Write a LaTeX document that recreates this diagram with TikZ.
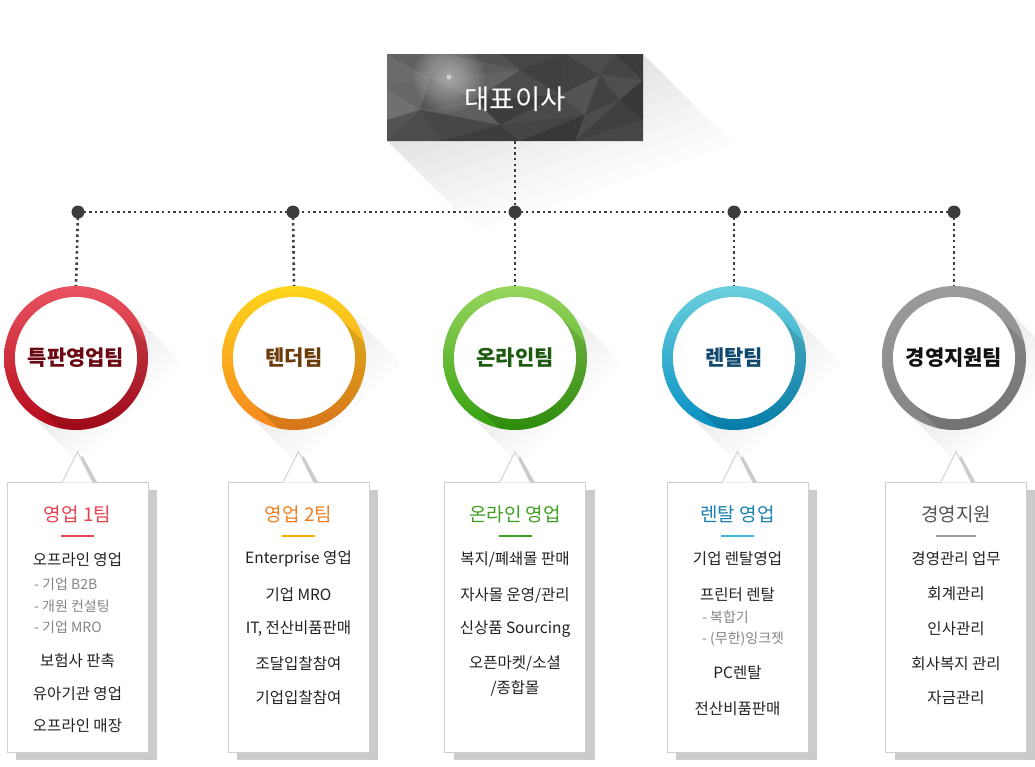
\documentclass[tikz,border=0pt]{standalone}
\usepackage{fontspec}
\setmainfont{Noto Sans CJK KR}
\usetikzlibrary{calc}
\definecolor{dotc}{HTML}{3C3C3C}
\definecolor{bossc}{HTML}{4A4A4A}
\definecolor{shadowc}{HTML}{CBCBCB}
\definecolor{panelline}{HTML}{CFCFCF}
\definecolor{itemc}{HTML}{222222}
\definecolor{subc}{HTML}{858585}
\definecolor{rA}{HTML}{E9535F}\definecolor{rB}{HTML}{B50A1B}
\definecolor{yA}{HTML}{FDD51C}\definecolor{yB}{HTML}{F7861E}
\definecolor{gA}{HTML}{98D65E}\definecolor{gB}{HTML}{34A00E}
\definecolor{bA}{HTML}{6CD0DD}\definecolor{bB}{HTML}{068EC2}
\definecolor{kA}{HTML}{9C9C9C}\definecolor{kB}{HTML}{848484}
\definecolor{hR}{HTML}{E8404F}\definecolor{hY}{HTML}{F07F22}
\definecolor{hG}{HTML}{3FA021}\definecolor{hB}{HTML}{1A80B0}
\definecolor{hK}{HTML}{555555}
\definecolor{uR}{HTML}{E84050}\definecolor{uY}{HTML}{F5B000}
\definecolor{uG}{HTML}{3FA021}\definecolor{uB}{HTML}{40B8D8}
\definecolor{uK}{HTML}{9A9A9A}
\definecolor{tR}{HTML}{6B0A14}\definecolor{tY}{HTML}{6B3C0A}
\definecolor{tG}{HTML}{1E5A0F}\definecolor{tB}{HTML}{0F4A6E}
\definecolor{tK}{HTML}{111111}
\newcommand\mytri[4]{\fill[#4] (#1) -- (#2) -- (#3) -- cycle;}
\begin{document}
\begin{tikzpicture}[x=1pt,y=-1pt,
  dotline/.style={draw=dotc, line width=2.6pt, dash pattern=on 2.4pt off 3.2pt},
  jdot/.style={circle, fill=dotc, inner sep=0pt, minimum size=13pt},
  ring/.style={circle, inner sep=0pt, minimum size=144pt, shading angle=45},
  panel/.style={rectangle, draw=panelline, line width=0.8pt, fill=white, minimum width=141pt, minimum height=270pt, inner sep=0pt},
  item/.style={font=\fontsize{15.5}{18}\selectfont, text=itemc, inner sep=0pt},
  subitem/.style={font=\fontsize{14}{16}\selectfont, text=subc, anchor=west, inner sep=0pt},
  head/.style={font=\fontsize{19}{22}\selectfont, inner sep=0pt},
  team/.style={font=\fontsize{21}{24}\selectfont\bfseries, inner sep=0pt},
  uline/.style={line width=1.1pt},
  longshadow/.style={fill=black, opacity=0.011}
]
\useasboundingbox (0,0) rectangle (1035,766);
\fill[white] (0,0) rectangle (1035,766);

% long shadows (stacked strips fading away from the object)
\foreach \l in {10,20,...,90}
  \fill[longshadow] (387,141) -- (643,54) -- ({643+\l},{54+\l}) -- ({387+\l},{141+\l}) -- cycle;
\foreach \cx in {76,294,515,734,954} {
  \foreach \l in {7,14,...,56}
    \fill[longshadow] ({\cx+51},307) -- ({\cx-51},409) -- ({\cx-51+\l},{409+\l}) -- ({\cx+51+\l},{307+\l}) -- cycle;
}

% boss box
\node[rectangle, minimum width=256pt, minimum height=87pt, inner sep=0pt, fill=bossc] (boss) at (515,97.5) {};
\begin{scope}
\clip (boss.north west) rectangle (boss.south east);
\coordinate (A) at (387,54); \coordinate (B) at (445,54); \coordinate (C) at (500,54);
\coordinate (D) at (565,54); \coordinate (E) at (615,54); \coordinate (F) at (643,54);
\coordinate (G) at (387,88); \coordinate (N) at (387,120); \coordinate (S) at (387,141);
\coordinate (M) at (643,80); \coordinate (X) at (643,120); \coordinate (W) at (643,141);
\coordinate (T) at (440,141); \coordinate (U) at (520,141); \coordinate (V) at (575,141);
\coordinate (H) at (430,78); \coordinate (I) at (475,100); \coordinate (J) at (520,70);
\coordinate (K) at (560,95); \coordinate (L) at (600,75); \coordinate (O) at (420,110);
\coordinate (P) at (500,125); \coordinate (Q) at (585,115); \coordinate (R) at (620,100);
\mytri{A}{B}{H}{black!62}
\mytri{A}{H}{G}{black!58}
\mytri{B}{C}{J}{black!68}
\mytri{B}{J}{H}{black!64}
\mytri{C}{D}{J}{black!72}
\mytri{D}{K}{J}{black!75}
\mytri{D}{L}{K}{black!74}
\mytri{D}{E}{L}{black!70}
\mytri{E}{M}{L}{black!73}
\mytri{E}{F}{M}{black!77}
\mytri{G}{H}{O}{black!60}
\mytri{G}{O}{N}{black!56}
\mytri{H}{I}{O}{black!66}
\mytri{H}{J}{I}{black!61}
\mytri{J}{K}{I}{black!70}
\mytri{I}{K}{P}{black!76}
\mytri{K}{Q}{P}{black!71}
\mytri{K}{L}{Q}{black!67}
\mytri{L}{R}{Q}{black!74}
\mytri{L}{M}{R}{black!69}
\mytri{M}{X}{R}{black!78}
\mytri{N}{O}{S}{black!67}
\mytri{O}{T}{S}{black!70}
\mytri{O}{I}{P}{black!63}
\mytri{O}{P}{T}{black!72}
\mytri{P}{U}{T}{black!76}
\mytri{P}{Q}{U}{black!73}
\mytri{Q}{V}{U}{black!78}
\mytri{Q}{R}{V}{black!70}
\mytri{R}{X}{V}{black!75}
\mytri{X}{W}{V}{black!72}
\foreach \r in {36,34,...,2}
  \fill[white, opacity=0.035] (449,77) circle (\r pt);
\fill[white, opacity=0.5] (449,77) circle (2.5pt);
\end{scope}
\node[font=\fontsize{27.5}{30}\selectfont, text=white, inner sep=0pt] (bossl) at (515,99) {대표이사};

% team circles
\foreach \n/\cx/\ca/\cb/\tc/\lab in {1/76/rA/rB/tR/특판영업팀, 2/294/yA/yB/tY/텐더팀, 3/515/gA/gB/tG/온라인팀, 4/734/bA/bB/tB/렌탈팀, 5/954/kA/kB/tK/경영지원팀} {
  \node[ring, top color=\ca, bottom color=\cb] (c\n) at (\cx,358) {};
  \begin{scope}
    \clip (c\n.center) circle (72pt);
    \fill[black, opacity=0.12] ($(c\n.center)+(43,-43)$) -- ($(c\n.center)+(-43,43)$) -- ($(c\n.center)+(27,113)$) -- ($(c\n.center)+(113,27)$) -- cycle;
  \end{scope}
  \fill[white] (c\n.center) circle (61pt);
  \node[team, text=\tc] (cl\n) at (\cx,358) {\lab};
}

% connectors
\coordinate (j1) at (78,212); \coordinate (j2) at (293,212); \coordinate (j3) at (515,212);
\coordinate (j4) at (734,212); \coordinate (j5) at (954,212);
\draw[dotline] (boss.south) -- (j3);
\draw[dotline] (j1) -- (j5);
\foreach \n in {1,...,5} {
  \draw[dotline] (j\n) -- (c\n.north);
}
\foreach \n in {1,...,5} {
  \node[jdot] (d\n) at (j\n) {};
}

% panels
\foreach \n/\cx in {1/77.5, 2/298.5, 3/515, 4/737.5, 5/956} {
  \fill[shadowc] ({\cx-61.5},490) rectangle ({\cx+79.5},760);
  \fill[shadowc] ({\cx-10},483) -- ({\cx+5},456) -- ({\cx+20},483) -- cycle;
  \node[panel] (p\n) at (\cx,617) {};
  \fill[white] ($(p\n.north)+(-15,1)$) -- ($(p\n.north)+(0,-30)$) -- ($(p\n.north)+(15,1)$) -- cycle;
  \draw[panelline, line width=0.8pt] ($(p\n.north)+(-15,0)$) -- ($(p\n.north)+(0,-30)$) -- ($(p\n.north)+(15,0)$);
}

% panel 1
\node[head, text=hR] (h1) at (77.5,514) {영업 1팀};
\draw[uline, uR] (61,536) -- (94,536);
\node[item] (a1) at (77.5,560) {오프라인 영업};
\node[subitem] (a2) at (34,584) {- 기업 B2B};
\node[subitem] (a3) at (34,606) {- 개원 컨설팅};
\node[subitem] (a4) at (34,627) {- 기업 MRO};
\node[item] (a5) at (77.5,661) {보험사 판촉};
\node[item] (a6) at (77.5,694) {유아기관 영업};
\node[item] (a7) at (77.5,726) {오프라인 매장};

% panel 2
\node[head, text=hY] (h2) at (298.5,514) {영업 2팀};
\draw[uline, uY] (282,536) -- (315,536);
\node[item] (b1) at (298.5,559) {Enterprise 영업};
\node[item] (b2) at (298.5,595) {기업 MRO};
\node[item] (b3) at (298.5,629) {IT, 전산비품판매};
\node[item] (b4) at (298.5,664) {조달입찰참여};
\node[item] (b5) at (298.5,698) {기업입찰참여};

% panel 3
\node[head, text=hG] (h3) at (515,514) {온라인 영업};
\draw[uline, uG] (499,536) -- (532,536);
\node[item] (e1) at (515,559) {복지/폐쇄몰 판매};
\node[item] (e2) at (515,595) {자사몰 운영/관리};
\node[item] (e3) at (515,629) {신상품 Sourcing};
\node[item] (e4) at (515,663) {오픈마켓/소셜};
\node[item] (e5) at (515,688) {/종합몰};

% panel 4
\node[head, text=hB] (h4) at (737.5,514) {렌탈 영업};
\draw[uline, uB] (721,536) -- (754,536);
\node[item] (f1) at (737.5,559) {기업 렌탈영업};
\node[item] (f2) at (737.5,595) {프린터 렌탈};
\node[subitem] (f3) at (702,617) {- 복합기};
\node[subitem] (f4) at (702,639) {- (무한)잉크젯};
\node[item] (f5) at (737.5,673) {PC렌탈};
\node[item] (f6) at (737.5,709) {전산비품판매};

% panel 5
\node[head, text=hK] (h5) at (956,514) {경영지원};
\draw[uline, uK] (936,536) -- (976,536);
\node[item] (g1) at (956,559) {경영관리 업무};
\node[item] (g2) at (956,594) {회계관리};
\node[item] (g3) at (956,629) {인사관리};
\node[item] (g4) at (956,664) {회사복지 관리};
\node[item] (g5) at (956,698) {자금관리};
\end{tikzpicture}
\end{document}
